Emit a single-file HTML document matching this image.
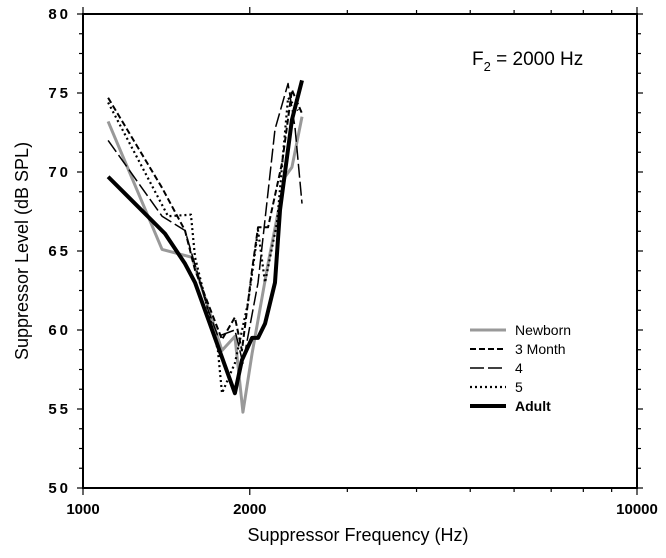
<!DOCTYPE html>
<html><head><meta charset="utf-8"><style>
body{margin:0;background:#fff}
svg{font-family:"Liberation Sans",Arial,sans-serif}
</style></head><body>
<svg id="chart" width="666" height="553" viewBox="0 0 666 553" xmlns="http://www.w3.org/2000/svg">
<g id="axes"></g><g id="series"></g><g id="legend"></g>
<text x="472" y="65" font-size="19">F<tspan font-size="13" dy="6">2</tspan><tspan dy="-6"> = 2000 Hz</tspan></text>
<text x="358" y="541" font-size="18" text-anchor="middle">Suppressor Frequency (Hz)</text>
<text transform="translate(28,251) rotate(-90)" font-size="18" text-anchor="middle">Suppressor Level (dB SPL)</text>
</svg>
<script>
const yTicks=[50,55,60,65,70,75,80];
const xTickLabels=[1000,2000,10000];
const seriesNames=["Newborn","3 Month","4","5","Adult"];
const newbornF=[1110,1389,1573,1782,1880,1944,2019,2158,2316,2383,2485];
const newbornL=[73.2,65.1,64.6,58.7,59.6,54.8,58.5,64.2,69.7,70.3,73.5];
const m3F=[1110,1389,1528,1593,1782,1880,1936,2019,2070,2158,2288,2383,2485];
const m3L=[74.7,69.0,66.3,63.8,59.4,60.8,58.7,63.8,66.5,66.5,70.6,75.2,73.7];
const m4F=[1110,1389,1528,1681,1752,1880,1944,2070,2221,2345,2414,2485];
const m4L=[72.0,67.2,66.3,61.3,59.6,60.0,57.9,63.0,72.7,75.6,72.8,68.0];
const m5F=[1110,1424,1566,1593,1752,1782,1880,1985,2070,2131,2240,2345,2445];
const m5L=[74.4,67.2,67.3,64.6,58.7,56.0,57.9,61.7,66.3,63.0,66.8,74.7,73.9];
const adultF=[1110,1406,1528,1593,1880,1936,2019,2070,2131,2221,2268,2383,2485];
const adultL=[69.7,66.1,64.2,63.0,56.0,58.1,59.5,59.5,60.4,63.0,67.6,73.3,75.8];

const L=83,R=637,T=14,B=488;
const xs=f=>L+(R-L)*Math.log10(f/1000);
const ys=v=>B-(B-T)*(v-50)/30;
const NS="http://www.w3.org/2000/svg";
function mk(tag,attrs,parent){const e=document.createElementNS(NS,tag);for(const k in attrs)e.setAttribute(k,attrs[k]);parent.appendChild(e);return e;}
const ax=document.getElementById('axes');
const frame=mk('rect',{x:L,y:T,width:R-L,height:B-T,fill:'none',stroke:'#000','stroke-width':2},ax);


for(let v=50;v<=80;v+=1.25){const y=ys(v);const len=(v%5===0)?6:4;
 mk('line',{x1:L-len,x2:L,y1:y,y2:y,stroke:'#000','stroke-width':1.2},ax);
 mk('line',{x1:R,x2:R+len,y1:y,y2:y,stroke:'#000','stroke-width':1.2},ax);}
yTicks.forEach(v=>{const t=mk('text',{x:L-12,y:ys(v)+5,'font-size':15,'font-weight':'bold','text-anchor':'end','letter-spacing':'3'},ax);t.textContent=v;
 
 });
for(let d=1;d<=10;d++){const x=xs(d*1000);const len=(d===1||d===2||d===10)?7:4;
 mk('line',{x1:x,x2:x,y1:B,y2:B+len,stroke:'#000','stroke-width':1.2},ax);
 mk('line',{x1:x,x2:x,y1:T-len,y2:T,stroke:'#000','stroke-width':1.2},ax);}
xTickLabels.forEach(v=>{const t=mk('text',{x:xs(v),y:514,'font-size':15,'font-weight':'bold','text-anchor':'middle'},ax);t.textContent=v;
 
 });
const styles=[{c:'#999',w:3,d:''},{c:'#000',w:2,d:'6,3'},{c:'#000',w:1.5,d:'14,4'},{c:'#000',w:2.2,d:'2,3'},{c:'#000',w:4,d:''}];
const data=[[newbornF,newbornL],[m3F,m3L],[m4F,m4L],[m5F,m5L],[adultF,adultL]];
const sg=document.getElementById('series');
data.forEach((s,i)=>{const st=styles[i];
 const p=mk('polyline',{points:s[0].map((f,j)=>xs(f)+','+ys(s[1][j])).join(' '),fill:'none',stroke:st.c,'stroke-width':st.w,'stroke-dasharray':st.d,'stroke-linejoin':'round'},sg);
 
 });
const lg=document.getElementById('legend');
seriesNames.forEach((n,i)=>{const st=styles[i];const y=330+i*19;
 const g=mk('g',{},lg);
 
 
 mk('line',{x1:470,x2:506,y1:y,y2:y,stroke:st.c,'stroke-width':st.w,'stroke-dasharray':st.d},g);
 const t=mk('text',{x:515,y:y+5,'font-size':14,'font-weight':i===4?'bold':'normal'},g);t.textContent=n;});
</script>
</body></html>
